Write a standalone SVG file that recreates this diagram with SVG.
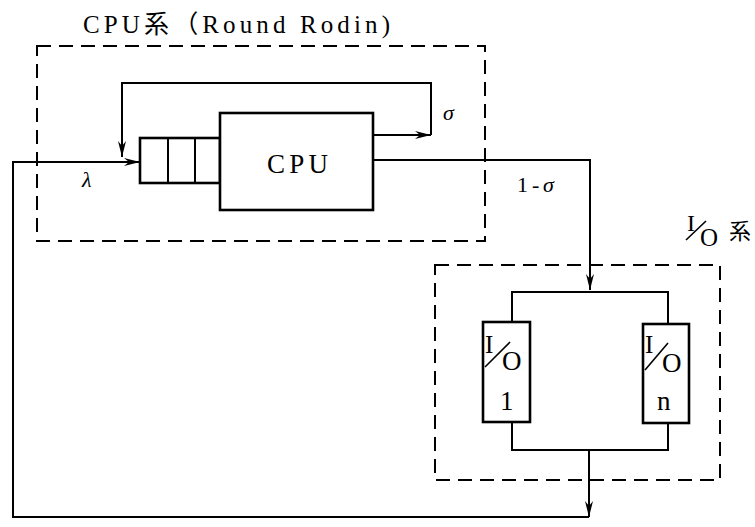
<svg xmlns="http://www.w3.org/2000/svg" width="755" height="527" viewBox="0 0 755 527">
<style>
.bg{fill:#fff}
.box{fill:#fff;stroke:#000;stroke-width:2.6}
.dash{fill:none;stroke:#000;stroke-width:2;stroke-dasharray:14 8}
.ln{fill:none;stroke:#000;stroke-width:2}
.t{font-family:"Liberation Serif","Times New Roman",serif;fill:#000}
.it{font-family:"Liberation Serif","Times New Roman",serif;font-style:italic;fill:#000}
.cjk{font-family:"Liberation Serif","Noto Sans CJK JP",serif;fill:#000}
</style>
<defs>
<marker id="arr" viewBox="0 0 16 9" refX="16" refY="4.5" markerWidth="16" markerHeight="9" markerUnits="userSpaceOnUse" orient="auto">
<path d="M0,0.5 L16,4.5 L0,8.5 L5,4.5 z" fill="#000"/>
</marker>
</defs>
<rect class="bg" x="0" y="0" width="755" height="527"/>

<g id="cpu-system">
<rect class="dash" x="37" y="46" width="448" height="195"/>
<text class="cjk" x="83" y="33" font-size="25" textLength="307" lengthAdjust="spacing">CPU系（Round Rodin)</text>
</g>

<g id="queue">
<rect class="box" x="140" y="138" width="80" height="45"/>
<line class="ln" x1="168" y1="138" x2="168" y2="183" stroke-width="2.6"/>
<line class="ln" x1="195" y1="138" x2="195" y2="183" stroke-width="2.6"/>
</g>

<g id="cpu">
<rect class="box" x="220" y="113" width="153" height="97"/>
<text class="t" x="267" y="173" font-size="27" textLength="61" lengthAdjust="spacing">CPU</text>
</g>

<g id="io-system">
<rect class="dash" x="435" y="265" width="285" height="215"/>
<text class="t" x="687" y="231" font-size="24">I</text>
<line x1="686" y1="240" x2="706" y2="221" stroke="#000" stroke-width="1.6"/>
<text class="t" x="700" y="246" font-size="25">O</text>
<text class="cjk" x="729" y="239" font-size="22">系</text>
</g>

<g id="io-1">
<rect class="box" x="483" y="322" width="47" height="100"/>
<text class="t" x="485" y="353" font-size="25">I</text>
<line x1="485" y1="367" x2="510" y2="342" stroke="#000" stroke-width="1.6"/>
<text class="t" x="502" y="370" font-size="27">O</text>
<text class="t" x="500" y="410" font-size="27">1</text>
</g>

<g id="io-n">
<rect class="box" x="643" y="324" width="46" height="99"/>
<text class="t" x="645" y="353" font-size="25">I</text>
<line x1="645" y1="370" x2="668" y2="343" stroke="#000" stroke-width="1.6"/>
<text class="t" x="662" y="372" font-size="27">O</text>
<text class="t" x="657" y="410" font-size="27">n</text>
</g>

<g id="connectors">
<path class="ln" d="M373,135 H431" marker-end="url(#arr)"/>
<path class="ln" d="M431,135 V83 H122 V157" marker-end="url(#arr)"/>
<path class="ln" d="M373,160 H590 V290" marker-end="url(#arr)"/>
<path class="ln" d="M512,322 V292 H668 V324"/>
<path class="ln" d="M512,422 V450 H668 V423"/>
<path class="ln" d="M589,450 V517" marker-end="url(#arr)"/>
<path class="ln" d="M589,517 H13 V162 H140" marker-end="url(#arr)"/>
<text class="it" x="443" y="120" font-size="22">σ</text>
<text class="it" x="82" y="187" font-size="22">λ</text>
<text class="t" x="517" y="192" font-size="22">1</text>
<text class="t" x="532" y="192" font-size="22">-</text>
<text class="it" x="543" y="192" font-size="22">σ</text>
</g>
</svg>
